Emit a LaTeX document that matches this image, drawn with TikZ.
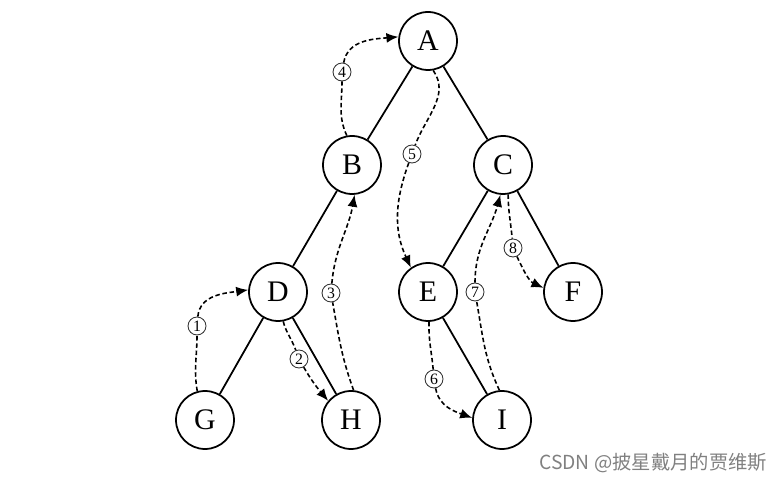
\documentclass[tikz,border=0pt]{standalone}
\usepackage{fontspec}
\setmainfont{Liberation Serif}
\newfontfamily\cjk{Noto Sans CJK SC}
\usetikzlibrary{arrows.meta}

\begin{document}
\begin{tikzpicture}[x=0.02cm,y=0.02cm,
  vtx/.style={circle,draw=black,line width=1pt,fill=white,minimum size=1.16cm,inner sep=0,
              font=\fontsize{17}{20}\selectfont},
  edge/.style={line width=1pt,black},
  num/.style={circle,draw=black!80,line width=0.5pt,minimum size=0.36cm,inner sep=0,
              font=\fontsize{9}{10}\selectfont},
  trav/.style={line width=0.9pt,dash pattern=on 0.9mm off 0.55mm,
               -{Latex[length=2.4mm,width=2mm]}}]

\useasboundingbox (0,0) rectangle (782,484);

%% tree nodes
\foreach \n/\x/\y in {A/428/443, B/352/319, C/503/319, D/278/192, E/428/192,
                      F/573/192, G/205/64, H/351/64, I/502/64}
  \node[vtx] (\n) at (\x,\y) {\n};

%% tree edges
\foreach \a/\b in {A/B, A/C, B/D, C/E, C/F, D/G, D/H, E/I}
  \draw[edge] (\a) -- (\b);

%% step numbers
\foreach \k/\x/\y in {1/197/158, 2/299/125, 3/331/191, 4/342/412,
                      5/412/330, 6/434/105, 7/475/192, 8/513/236}
  \node[num] (s\k) at (\x,\y) {\k};

%% traversal order (dashed)
\draw[trav] (G.105) to[out=100,in=-90] (s1) to[out=85,in=188] (D.176);
\draw[trav] (D.-80) to[out=-75,in=110] (s2) to[out=-60,in=130] (H.140);
\draw[trav] (H.85) to[out=110,in=-80] (s3) to[out=85,in=-100] (B.-85);
\draw[trav] (B.100) to[out=115,in=-90] (s4) to[out=80,in=185] (A.172);
\draw[trav] (A.-80) to[out=-55,in=70] (s5) to[out=-110,in=115] (E.125);
\draw[trav] (E.-88) to[out=-92,in=95] (s6) to[out=-80,in=160] (I.176);
\draw[trav] (I.95) to[out=115,in=-80] (s7) to[out=90,in=-105] (C.-95);
\draw[trav] (C.-80) to[out=-90,in=95] (s8) to[out=-65,in=155] (F.172);

%% watermark
\node[anchor=west,text=black!50,font=\cjk\fontsize{11}{13}\selectfont] (wm) at (533,21)
  {CSDN @披星戴月的贾维斯};
\end{tikzpicture}
\end{document}
